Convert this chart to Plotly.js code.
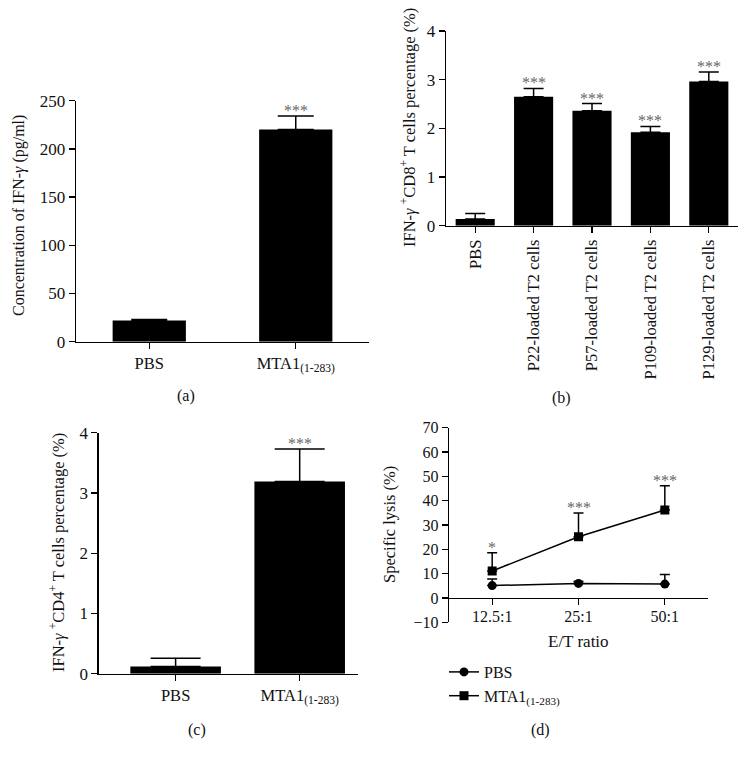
<!DOCTYPE html>
<html>
<head>
<meta charset="utf-8">
<script src="https://cdn.plot.ly/plotly-3.0.1.min.js"></script>
<style>html,body{margin:0;padding:0;background:#fff;}#chart{width:749px;height:763px;}</style>
</head>
<body>
<div id="chart"></div>
<script>
// ---- Panel (a) ----
const catsA = ['PBS', 'MTA1<sub>(1-283)</sub>'];
const valsA = [22, 220];
const errA = [1, 14];
const sigA = ['', '***'];

// ---- Panel (b) ----
const catsB = ['PBS', 'P22-loaded T2 cells', 'P57-loaded T2 cells', 'P109-loaded T2 cells', 'P129-loaded T2 cells'];
const valsB = [0.14, 2.65, 2.36, 1.92, 2.96];
const errB = [0.11, 0.17, 0.15, 0.12, 0.20];
const sigB = ['', '***', '***', '***', '***'];

// ---- Panel (c) ----
const catsC = ['PBS', 'MTA1<sub>(1-283)</sub>'];
const valsC = [0.12, 3.19];
const errC = [0.135, 0.54];
const sigC = ['', '***'];

// ---- Panel (d) ----
const ratiosD = ['12.5:1', '25:1', '50:1'];
const pbsD = [5.1, 6.0, 5.7];
const pbsErrD = [2.7, 0.8, 4.0];
const mtaD = [11.1, 25.2, 36.2];
const mtaErrD = [7.5, 9.7, 9.9];
const sigD = ['*', '***', '***'];

const FONT = 'Liberation Serif, Times New Roman, serif';
const INK = '#111';
const idx = a => a.map((_, i) => i);
const zeros = a => a.map(() => 0);

function barTrace(cats, vals, errs, xa, ya, width, cap) {
  return {
    type: 'bar', x: idx(cats), y: vals, xaxis: xa, yaxis: ya, width: width,
    marker: {color: '#000', line: {color: '#000', width: 0}},
    error_y: {type: 'data', symmetric: false, array: errs, arrayminus: zeros(errs),
      color: '#000', thickness: 1.5, width: cap},
    showlegend: false, hoverinfo: 'none'
  };
}

const traces = [
  barTrace(catsA, valsA, errA, 'x', 'y', 0.5, 18),
  barTrace(catsB, valsB, errB, 'x2', 'y2', 0.67, 10),
  barTrace(catsC, valsC, errC, 'x3', 'y3', 0.73, 25),
  {
    type: 'scatter', mode: 'lines+markers', name: 'PBS', x: idx(ratiosD), y: pbsD,
    xaxis: 'x4', yaxis: 'y4',
    line: {color: '#000', width: 1.5}, marker: {symbol: 'circle', size: 9, color: '#000'},
    error_y: {type: 'data', symmetric: false, array: pbsErrD, arrayminus: zeros(pbsErrD),
      color: '#000', thickness: 1.5, width: 5}
  },
  {
    type: 'scatter', mode: 'lines+markers', name: 'MTA1<sub>(1-283)</sub>', x: idx(ratiosD), y: mtaD,
    xaxis: 'x4', yaxis: 'y4',
    line: {color: '#000', width: 1.5}, marker: {symbol: 'square', size: 9, color: '#000'},
    error_y: {type: 'data', symmetric: false, array: mtaErrD, arrayminus: zeros(mtaErrD),
      color: '#000', thickness: 1.5, width: 5}
  }
];

function tf(size) { return {family: FONT, size: size, color: INK}; }
function xAx(domain, cats, range, fsize, extra) {
  return Object.assign({
    domain: domain, range: range, tickmode: 'array', tickvals: idx(cats), ticktext: cats,
    showline: true, linecolor: '#000', linewidth: 1.3, ticks: 'outside', ticklen: 6,
    tickwidth: 1.3, tickcolor: '#000', showgrid: false, zeroline: false,
    tickfont: tf(fsize), fixedrange: true
  }, extra || {});
}
function yAx(domain, range, dtick, anchor, fsize) {
  return {
    domain: domain, range: range, dtick: dtick, anchor: anchor,
    showline: true, linecolor: '#000', linewidth: 1.3, ticks: 'outside', ticklen: 6,
    tickwidth: 1.3, tickcolor: '#000', showgrid: false, zeroline: false,
    tickfont: tf(fsize), fixedrange: true
  };
}

const annotations = [];
function sigAnn(sigs, vals, errs, xa, ya) {
  sigs.forEach((s, i) => {
    if (!s) return;
    annotations.push({xref: xa, yref: ya, x: i, y: vals[i] + errs[i], text: s,
      showarrow: false, yanchor: 'bottom', yshift: -5,
      font: {family: FONT, size: 16, color: '#666'}});
  });
}
sigAnn(sigA, valsA, errA, 'x', 'y');
sigAnn(sigB, valsB, errB, 'x2', 'y2');
sigAnn(sigC, valsC, errC, 'x3', 'y3');
sigAnn(sigD, mtaD, mtaErrD, 'x4', 'y4');

function paperText(text, px, py, angle, size) {
  annotations.push({xref: 'paper', yref: 'paper', x: px / 749, y: 1 - py / 763,
    xanchor: 'center', yanchor: 'middle', text: text, showarrow: false,
    textangle: angle || 0, font: tf(size || 16)});
}
paperText('Concentration of IFN-<i>γ</i> (pg/ml)', 19, 216, -90, 16);
paperText('IFN-<i>γ</i> <sup>+</sup>CD8<sup>+</sup> T cells percentage (%)', 409, 128, -90, 16.5);
paperText('IFN-<i>γ</i> <sup>+</sup>CD4<sup>+</sup> T cells percentage (%)', 57, 553, -90, 16.5);
paperText('Specific lysis (%)', 389, 525, -90, 16.5);
paperText('E/T ratio', 578, 641, 0, 17);
paperText('(a)', 186, 396, 0, 16);
paperText('(b)', 561, 398, 0, 16);
paperText('(c)', 197, 730, 0, 16);
paperText('(d)', 540, 730, 0, 16);

const layout = {
  width: 749, height: 763, autosize: false,
  margin: {l: 0, r: 0, t: 0, b: 0},
  paper_bgcolor: '#fff', plot_bgcolor: 'rgba(0,0,0,0)',
  font: tf(16),
  showlegend: true,
  legend: {x: 444 / 749, y: 1 - 655 / 763, xanchor: 'left', yanchor: 'top',
    font: tf(16), bgcolor: 'rgba(0,0,0,0)', borderwidth: 0, tracegroupgap: 0},
  xaxis: xAx([76 / 749, 369 / 749], catsA, [-0.5, 1.5], 16.5, {anchor: 'y'}),
  yaxis: yAx([1 - 341.7 / 763, 1 - 100.7 / 763], [0, 250], 50, 'x', 17),
  xaxis2: xAx([446 / 749, 738 / 749], catsB, [-0.5, 4.5], 16.5, {anchor: 'y2', tickangle: -90}),
  yaxis2: yAx([1 - 225.7 / 763, 1 - 31 / 763], [0, 4], 1, 'x2', 17),
  xaxis3: xAx([98.7 / 749, 358 / 749], catsC, [-0.62, 1.47], 16.5, {anchor: 'y3'}),
  yaxis3: yAx([1 - 673.7 / 763, 1 - 432.7 / 763], [0, 4], 1, 'x3', 17),
  xaxis4: xAx([449 / 749, 708 / 749], ratiosD, [-0.5, 2.5], 16, {anchor: 'free', position: 1 - 598 / 763, ticklabelstandoff: -3}),
  yaxis4: yAx([1 - 622.3 / 763, 1 - 427.7 / 763], [-10, 70], 10, 'x4', 16),
  annotations: annotations
};

Plotly.newPlot('chart', traces, layout, {displayModeBar: false, staticPlot: true});
</script>
</body>
</html>
